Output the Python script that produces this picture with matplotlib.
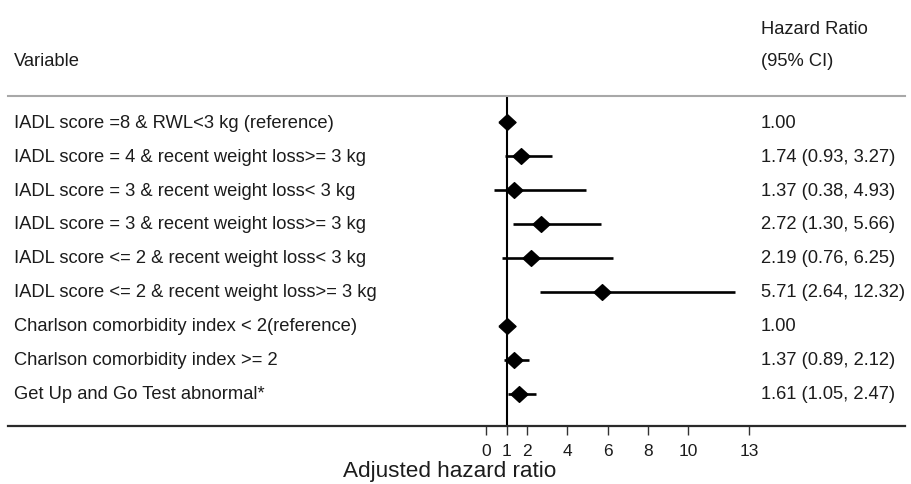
import matplotlib
matplotlib.use("Agg")
import matplotlib.pyplot as plt
from matplotlib.transforms import blended_transform_factory

plt.rcParams['font.family'] = ['Liberation Sans', 'DejaVu Sans']

labels = [
    "IADL score =8 & RWL<3 kg (reference)",
    "IADL score = 4 & recent weight loss>= 3 kg",
    "IADL score = 3 & recent weight loss< 3 kg",
    "IADL score = 3 & recent weight loss>= 3 kg",
    "IADL score <= 2 & recent weight loss< 3 kg",
    "IADL score <= 2 & recent weight loss>= 3 kg",
    "Charlson comorbidity index < 2(reference)",
    "Charlson comorbidity index >= 2",
    "Get Up and Go Test abnormal*",
]
hr = [1.00, 1.74, 1.37, 2.72, 2.19, 5.71, 1.00, 1.37, 1.61]
lo = [None, 0.93, 0.38, 1.30, 0.76, 2.64, None, 0.89, 1.05]
hi = [None, 3.27, 4.93, 5.66, 6.25, 12.32, None, 2.12, 2.47]
hr_text = ["1.00", "1.74 (0.93, 3.27)", "1.37 (0.38, 4.93)", "2.72 (1.30, 5.66)",
           "2.19 (0.76, 6.25)", "5.71 (2.64, 12.32)", "1.00",
           "1.37 (0.89, 2.12)", "1.61 (1.05, 2.47)"]
xticks = [0, 1, 2, 4, 6, 8, 10, 13]

W, H = 911, 485
fig = plt.figure(figsize=(W / 100, H / 100), dpi=100)

# axes region in pixels
ax_l, ax_r, ax_t, ax_b = 8, 905, 97, 427
ax = fig.add_axes([ax_l / W, 1 - ax_b / H, (ax_r - ax_l) / W, (ax_b - ax_t) / H])

x0_px, px_per_unit = 486.3, 20.2
ax.set_xlim((ax_l - x0_px) / px_per_unit, (ax_r - x0_px) / px_per_unit)
row0_px, row_step = 123.3, 33.9
ax.set_ylim((ax_b - row0_px) / row_step, (ax_t - row0_px) / row_step)

txtc = '#1c1c1c'
n = len(labels)
for i in range(n):
    if lo[i] is not None:
        ax.plot([lo[i], hi[i]], [i, i], color='black', lw=1.9, solid_capstyle='butt', zorder=2)
diamond = [(-1, 0), (0, 0.92), (1, 0), (0, -0.92), (-1, 0)]
ax.plot(hr, list(range(n)), linestyle='none', marker=diamond, markersize=12.3,
        color='black', zorder=3)
ax.axvline(1, color='black', lw=1.5, zorder=1)

for s in ['left', 'right']:
    ax.spines[s].set_visible(False)
ax.spines['top'].set_color('#a8a8a8')
ax.spines['top'].set_linewidth(1.5)
ax.spines['bottom'].set_color('#2a2a2a')
ax.spines['bottom'].set_linewidth(1.6)
ax.set_yticks([])
ax.set_xticks(xticks)
ax.set_xticklabels([str(t) for t in xticks])
ax.tick_params(axis='x', direction='out', length=6.5, width=1.0, color='#333333',
               labelsize=12.5, labelcolor=txtc, pad=6)

trans = blended_transform_factory(fig.transFigure, ax.transData)
fs = 13.2
for i in range(n):
    fig.text(14 / W, i, labels[i], transform=trans, ha='left', va='center',
             fontsize=fs, color=txtc)
    fig.text(761 / W, i, hr_text[i], transform=trans, ha='left', va='center',
             fontsize=fs, color=txtc)

fig.text(14 / W, 1 - 62 / H, "Variable", ha='left', va='center', fontsize=fs, color=txtc)
fig.text(761 / W, 1 - 29 / H, "Hazard Ratio", ha='left', va='center', fontsize=fs, color=txtc)
fig.text(761 / W, 1 - 62 / H, "(95% CI)", ha='left', va='center', fontsize=fs, color=txtc)
fig.text(450 / W, 3 / H, "Adjusted hazard ratio", ha='center', va='bottom',
         fontsize=16.2, color=txtc)

fig.savefig("out.png", dpi=100)
